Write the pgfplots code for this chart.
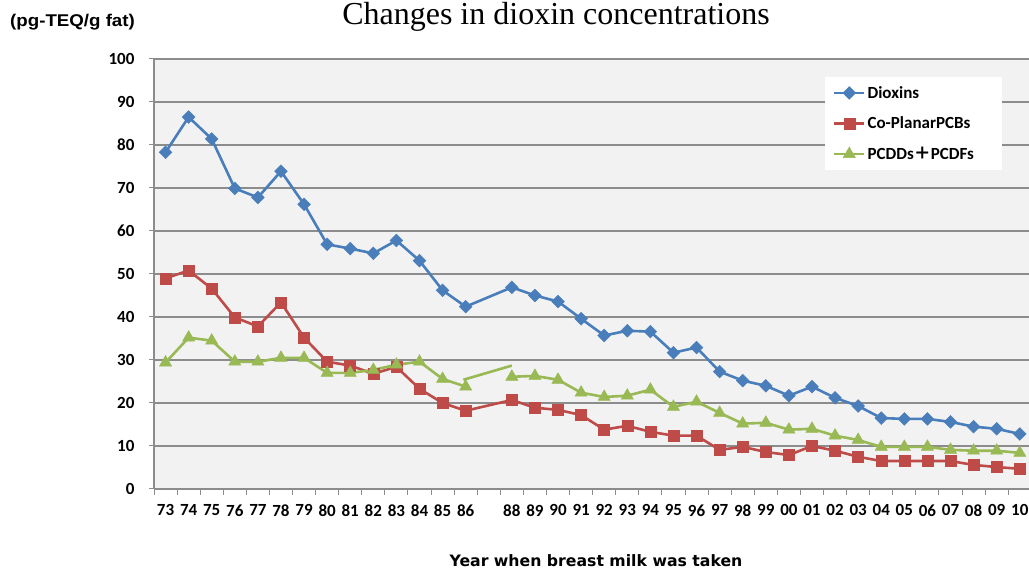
\documentclass[border=0pt]{standalone}
\usepackage{graphicx}
\usepackage{pgfplots}
\pgfplotsset{compat=1.18}
\usepackage{fontspec}
\setmainfont{Liberation Sans}
\newfontfamily\seriffont{Liberation Serif}
\newfontfamily\calib{Carlito}
\newfontfamily\dejavu{DejaVu Sans}
\newfontfamily\cjk{Noto Sans CJK JP}
\definecolor{cblue}{HTML}{4A7EBB}
\definecolor{cred}{HTML}{BE4B48}
\definecolor{cgreen}{HTML}{98B954}
\definecolor{gridc}{HTML}{8C8C8C}
\definecolor{bgc}{HTML}{F2F2F2}
\begin{document}
\begin{tikzpicture}[x=1pt,y=1pt]
\path[use as bounding box] (0pt,0pt) rectangle (1029pt,571pt);
\begin{axis}[
  at={(154pt,82pt)}, anchor=south west,
  scale only axis, width=875pt, height=430pt,
  xmin=-0.5, xmax=37.4, ymin=0, ymax=100,
  axis background/.style={fill=bgc},
  axis x line*=bottom, axis y line*=left,
  axis line style={gridc, line width=1.2pt},
  ytick={0,10,...,100},
  ymajorgrids, major grid style={gridc, line width=1.1pt},
  xtick={0,...,37},
  xticklabels={73,74,75,76,77,78,79,80,81,82,83,84,85,86,{},88,89,90,91,92,93,94,95,96,97,98,99,00,01,02,03,04,05,06,07,08,09,10},
  minor xtick={-0.5,0.5,...,36.5},
  tick align=outside,
  major x tick style={draw=none},
  minor x tick style={gridc, line width=1pt},
  major y tick style={gridc, line width=1pt},
  major tick length=5pt, minor tick length=6pt,
  /pgf/number format/assume math mode=true,
  tick label style={font=\fontsize{17}{19}\selectfont\calib\bfseries},
  xticklabel style={yshift=-7pt},
  yticklabel style={xshift=-11pt},
  legend style={at={(0.7666,0.958)}, anchor=north west, draw=none, fill=white,
    font=\fontsize{17}{19}\selectfont\calib\bfseries, row sep=13pt,
    inner xsep=8pt, inner ysep=7pt},
  legend cell align=left,
  legend image code/.code={\draw[mark repeat=2,mark phase=2] plot coordinates {(0pt,0pt) (15pt,0pt) (30pt,0pt)};},
  every axis plot/.append style={line width=2.6pt},
]
% Dioxins
\addplot[cblue, mark=square*, mark size=4.5pt, mark options={rotate=45, solid, line width=0.5pt}] coordinates {
(0,78.3)(1,86.5)(2,81.4)(3,69.9)(4,67.8)(5,73.9)(6,66.2)(7,56.9)(8,55.9)(9,54.8)(10,57.8)(11,53.1)(12,46.2)(13,42.4)
(15,46.9)(16,45.0)(17,43.6)(18,39.6)(19,35.7)(20,36.8)(21,36.6)(22,31.7)(23,32.9)(24,27.3)(25,25.2)(26,24.0)
(27,21.7)(28,23.8)(29,21.2)(30,19.3)(31,16.5)(32,16.3)(33,16.3)(34,15.6)(35,14.5)(36,14.0)(37,12.8)};
\addlegendentry{Dioxins}
% Co-planar PCBs
\addplot[cred, mark=square*, mark size=5.5pt, mark options={solid, line width=0.5pt}] coordinates {
(0,49.0)(1,50.8)(2,46.6)(3,39.9)(4,37.8)(5,43.4)(6,35.2)(7,29.6)(8,28.7)(9,26.8)(10,28.4)(11,23.3)(12,20.0)(13,18.2)
(15,20.7)(16,18.9)(17,18.4)(18,17.2)(19,13.8)(20,14.7)(21,13.3)(22,12.4)(23,12.4)(24,9.1)(25,9.8)(26,8.6)
(27,7.9)(28,10.0)(29,8.9)(30,7.5)(31,6.5)(32,6.5)(33,6.5)(34,6.5)(35,5.6)(36,5.1)(37,4.7)};
\addlegendentry{Co-PlanarPCBs}
% PCDDs + PCDFs
\addplot[cgreen, mark=triangle*, mark size=7pt, mark options={solid, line width=0.5pt}] coordinates {
(0,29.4)(1,35.2)(2,34.5)(3,29.6)(4,29.6)(5,30.5)(6,30.5)(7,27.0)(8,27.0)(9,27.7)(10,28.9)(11,29.6)(12,25.6)(13,23.8)};
\addlegendentry{PCDDs{\cjk ＋}PCDFs\hspace*{18pt}}
\addplot[cgreen, forget plot] coordinates {(12.9,25.4)(15,28.7)};
\addplot[cgreen, mark=triangle*, mark size=7pt, mark options={solid, line width=0.5pt}, forget plot] coordinates {
(15,26.1)(16,26.3)(17,25.4)(18,22.4)(19,21.4)(20,21.7)(21,23.1)(22,19.1)(23,20.3)(24,17.7)(25,15.2)(26,15.4)
(27,13.8)(28,14.0)(29,12.4)(30,11.4)(31,9.8)(32,9.8)(33,9.8)(34,9.1)(35,8.9)(36,8.9)(37,8.4)};
\end{axis}
\node[anchor=base west, inner sep=0pt, font=\fontsize{17}{19}\selectfont\bfseries] at (10pt,544pt) {\scalebox{1.1}[1]{(pg-TEQ/g fat)}};
\node[anchor=base, inner sep=0pt, font=\fontsize{32}{36}\selectfont\seriffont] at (556pt,546pt) {Changes in dioxin concentrations};
\node[anchor=base, inner sep=0pt, font=\fontsize{15.7}{18}\selectfont\dejavu\bfseries] at (596pt,5pt) {Year when breast milk was taken};
\end{tikzpicture}
\end{document}
